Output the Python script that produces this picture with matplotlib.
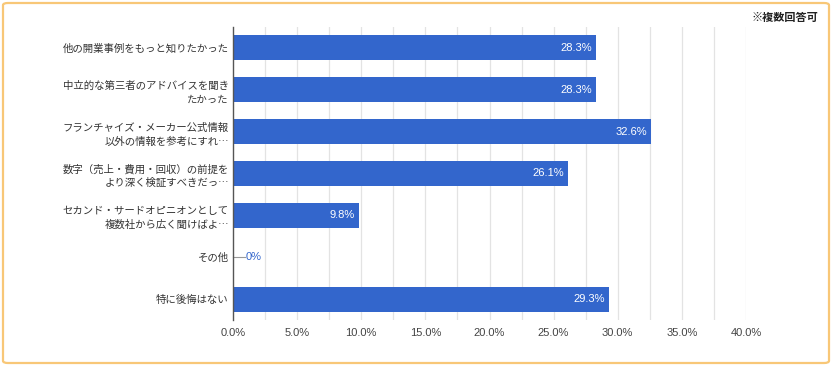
import matplotlib
matplotlib.use("Agg")
import matplotlib.pyplot as plt
from matplotlib.patches import FancyBboxPatch
import numpy as np

plt.rcParams['font.family'] = ['Noto Sans CJK JP', 'DejaVu Sans']
LATIN = ['Liberation Sans', 'DejaVu Sans']

categories = [
    "他の開業事例をもっと知りたかった",
    "中立的な第三者のアドバイスを聞き\nたかった",
    "フランチャイズ・メーカー公式情報\n以外の情報を参考にすれ…",
    "数字（売上・費用・回収）の前提を\nより深く検証すべきだっ…",
    "セカンド・サードオピニオンとして\n複数社から広く聞けばよ…",
    "その他",
    "特に後悔はない",
]
values = [28.3, 28.3, 32.6, 26.1, 9.8, 0.0, 29.3]
value_labels = ["28.3%", "28.3%", "32.6%", "26.1%", "9.8%", "0%", "29.3%"]
xticks = [0, 5, 10, 15, 20, 25, 30, 35, 40]
xtick_labels = ["0.0%", "5.0%", "10.0%", "15.0%", "20.0%", "25.0%", "30.0%", "35.0%", "40.0%"]

W, H = 832, 366
fig = plt.figure(figsize=(W / 100, H / 100), dpi=100)
ax = fig.add_axes([233 / W, 1 - 320 / H, (746 - 233) / W, (320 - 27) / H])

y = np.arange(len(categories))
bar_color = "#3366CC"
ax.barh(y, values, height=0.6, color=bar_color, zorder=3)
ax.set_ylim(len(categories) - 0.5, -0.5)
ax.set_xlim(0, 40)

# grid: major and minor
for gx in np.arange(2.5, 40.01, 2.5):
    ax.axvline(gx, color="#E3E3E3", lw=0.9, zorder=1)

for yi, v, lab in zip(y, values, value_labels):
    if v > 0:
        ax.text(v - 0.3, yi, lab, ha="right", va="center", color="white",
                fontsize=8, family=LATIN, zorder=4)
    else:
        ax.plot([0, 0.9], [yi, yi], color="#999999", lw=0.8, zorder=4, clip_on=False)
        ax.text(1.0, yi, lab, ha="left", va="center", color=bar_color,
                fontsize=8, family=LATIN, zorder=4)

ax.set_yticks(y)
ax.set_yticklabels(categories, fontsize=7.5, color="#333333", linespacing=1.45)
ax.set_xticks(xticks)
ax.set_xticklabels(xtick_labels, fontsize=8, color="#444444", family=LATIN)
ax.tick_params(axis="y", length=0, pad=3)
ax.tick_params(axis="x", length=0, pad=6)
for s in ["top", "right", "bottom"]:
    ax.spines[s].set_visible(False)
ax.spines["left"].set_color("#555555")
ax.spines["left"].set_linewidth(1.0)
ax.spines["left"].set_zorder(5)

fig.text(818 / W, 1 - 17 / H, "※複数回答可", ha="right", va="center",
         fontsize=8, color="#222222", fontweight="bold")

border = FancyBboxPatch((3 / W, 3 / H), 1 - 6 / W, 1 - 6 / H,
                        boxstyle="round,pad=0,rounding_size=0.006",
                        transform=fig.transFigure, fill=False,
                        edgecolor="#F8C777", lw=1.6)
fig.patches.append(border)

fig.savefig("out.png", dpi=100)
